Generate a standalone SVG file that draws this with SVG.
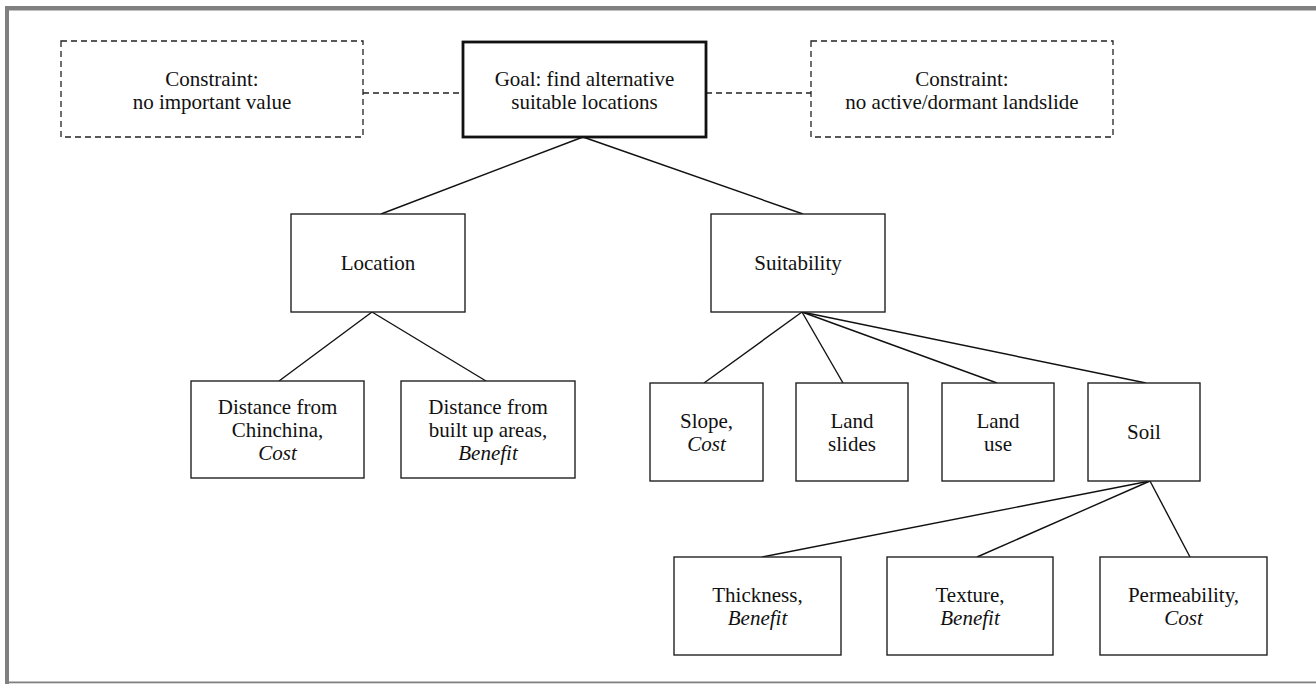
<svg xmlns="http://www.w3.org/2000/svg" width="1316" height="684" viewBox="0 0 1316 684">
<style>
  .box{fill:#fff;stroke:#222;stroke-width:1.4}
  .goal{fill:#fff;stroke:#111;stroke-width:2.8}
  .dash{fill:#fff;stroke:#222;stroke-width:1.3;stroke-dasharray:6,4}
  .ln{stroke:#111;stroke-width:1.4;fill:none}
  .dl{stroke:#222;stroke-width:1.3;stroke-dasharray:6,4;fill:none}
  text{font-family:"Liberation Serif","Times New Roman",serif;font-size:21px;fill:#111;text-anchor:middle}
  .it{font-style:italic}
</style>
<rect x="0" y="0" width="1316" height="684" fill="#fff"/>
<g id="frame" fill="#808080">
  <rect x="5" y="6" width="1311" height="4.5"/>
  <rect x="5" y="6" width="4" height="678"/>
  <rect x="5" y="681.5" width="1311" height="1.8"/>
</g>
<g id="connectors">
  <line class="dl" x1="363" y1="93" x2="463" y2="93"/>
  <line class="dl" x1="706" y1="93" x2="811" y2="93"/>
  <line class="ln" x1="583" y1="137" x2="381" y2="214"/>
  <line class="ln" x1="583" y1="137" x2="803" y2="214"/>
  <line class="ln" x1="372" y1="312" x2="279" y2="381"/>
  <line class="ln" x1="372" y1="312" x2="486" y2="381"/>
  <line class="ln" x1="802" y1="312" x2="704" y2="383"/>
  <line class="ln" x1="802" y1="312" x2="843" y2="383"/>
  <line class="ln" x1="802" y1="312" x2="997" y2="383"/>
  <line class="ln" x1="802" y1="312" x2="1146" y2="383"/>
  <line class="ln" x1="1150" y1="481" x2="762" y2="557"/>
  <line class="ln" x1="1150" y1="481" x2="977" y2="557"/>
  <line class="ln" x1="1150" y1="481" x2="1190" y2="557"/>
</g>
<g id="constraint-left">
  <rect class="dash" x="61" y="41" width="302" height="96"/>
  <text x="212" y="86">Constraint:</text>
  <text x="212" y="109">no important value</text>
</g>
<g id="goal">
  <rect class="goal" x="463" y="42" width="243" height="95"/>
  <text x="584.5" y="86">Goal: find alternative</text>
  <text x="584.5" y="109">suitable locations</text>
</g>
<g id="constraint-right">
  <rect class="dash" x="811" y="41" width="302" height="96"/>
  <text x="962" y="86">Constraint:</text>
  <text x="962" y="109">no active/dormant landslide</text>
</g>
<g id="location">
  <rect class="box" x="291" y="214" width="174" height="98"/>
  <text x="378" y="270">Location</text>
</g>
<g id="suitability">
  <rect class="box" x="711" y="214" width="174" height="98"/>
  <text x="798" y="270">Suitability</text>
</g>
<g id="dist-chinchina">
  <rect class="box" x="191" y="381" width="173" height="97"/>
  <text x="277.5" y="414">Distance from</text>
  <text x="277.5" y="437">Chinchina,</text>
  <text x="277.5" y="460" class="it">Cost</text>
</g>
<g id="dist-builtup">
  <rect class="box" x="401" y="381" width="174" height="97"/>
  <text x="488" y="414">Distance from</text>
  <text x="488" y="437">built up areas,</text>
  <text x="488" y="460" class="it">Benefit</text>
</g>
<g id="slope">
  <rect class="box" x="650" y="383" width="113" height="98"/>
  <text x="706.5" y="428">Slope,</text>
  <text x="706.5" y="451" class="it">Cost</text>
</g>
<g id="landslides">
  <rect class="box" x="796" y="383" width="112" height="98"/>
  <text x="852" y="428">Land</text>
  <text x="852" y="451">slides</text>
</g>
<g id="landuse">
  <rect class="box" x="942" y="383" width="112" height="98"/>
  <text x="998" y="428">Land</text>
  <text x="998" y="451">use</text>
</g>
<g id="soil">
  <rect class="box" x="1088" y="383" width="112" height="98"/>
  <text x="1144" y="439">Soil</text>
</g>
<g id="thickness">
  <rect class="box" x="674" y="557" width="167" height="98"/>
  <text x="757.5" y="602">Thickness,</text>
  <text x="757.5" y="625" class="it">Benefit</text>
</g>
<g id="texture">
  <rect class="box" x="887" y="557" width="166" height="98"/>
  <text x="970" y="602">Texture,</text>
  <text x="970" y="625" class="it">Benefit</text>
</g>
<g id="permeability">
  <rect class="box" x="1100" y="557" width="167" height="98"/>
  <text x="1183.5" y="602">Permeability,</text>
  <text x="1183.5" y="625" class="it">Cost</text>
</g>
</svg>
